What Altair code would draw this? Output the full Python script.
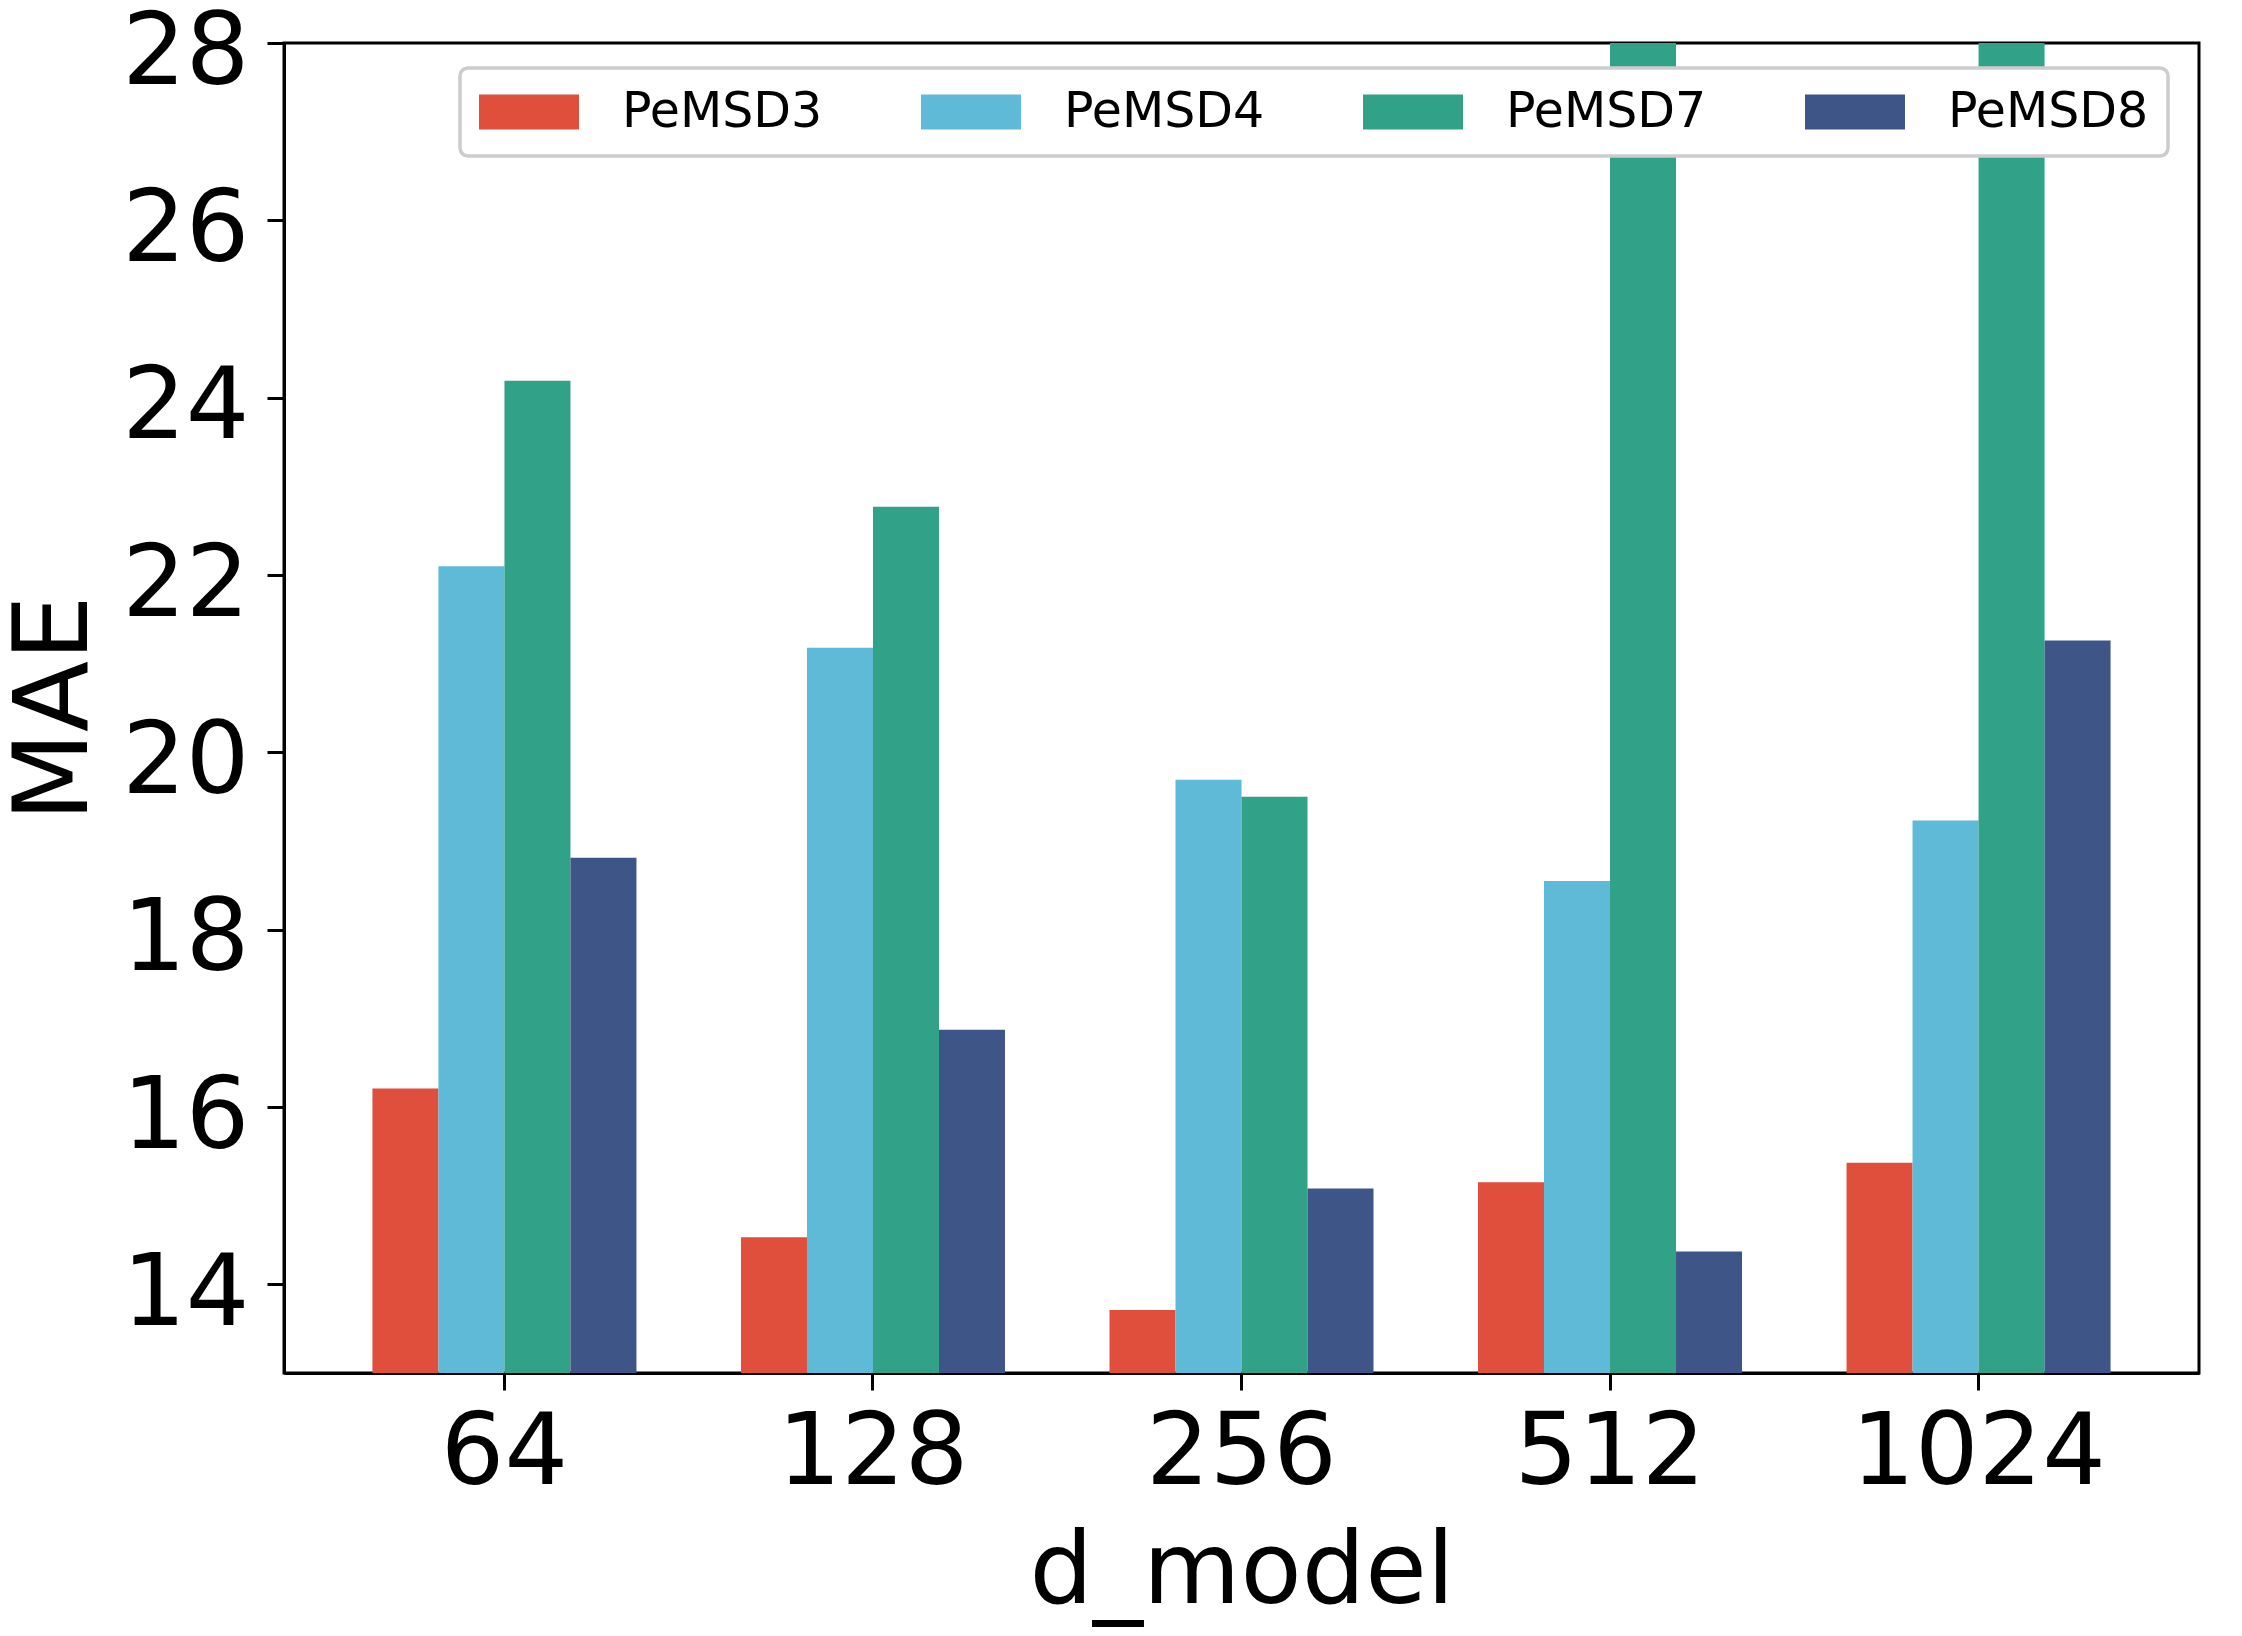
import altair as alt
import pandas as pd

d_model = ["64", "128", "256", "512", "1024"]
datasets = ["PeMSD3", "PeMSD4", "PeMSD7", "PeMSD8"]
colors = ["#e04e3c", "#5ebad6", "#31a188", "#3e5587"]

pemsd3 = [16.21, 14.53, 13.71, 15.15, 15.37]
pemsd4 = [22.10, 21.18, 19.69, 18.55, 19.23]
pemsd7 = [24.19, 22.77, 19.50, 31.0, 30.5]
pemsd8 = [18.81, 16.87, 15.08, 14.37, 21.26]

y_ticks = [14, 16, 18, 20, 22, 24, 26, 28]

series = {"PeMSD3": pemsd3, "PeMSD4": pemsd4, "PeMSD7": pemsd7, "PeMSD8": pemsd8}
rows = []
for name in datasets:
    for dm, v in zip(d_model, series[name]):
        rows.append({"d_model": dm, "dataset": name, "MAE": v})
df = pd.DataFrame(rows)

FONT = "DejaVu Sans"

chart = alt.Chart(df).mark_bar(clip=True).encode(
    x=alt.X(
        "d_model:N",
        sort=d_model,
        title="d_model",
        scale=alt.Scale(paddingInner=0.2836, paddingOuter=0.24),
        axis=alt.Axis(
            labelAngle=0,
            labelFontSize=100,
            labelPadding=14,
            labelLimit=500,
            labelColor="black",
            tickSize=17,
            tickWidth=3,
            tickColor="black",
            domainColor="black",
            domainWidth=3,
            titleFontSize=100,
            titleFontWeight="normal",
            titleColor="black",
            titleY=229,
            titleBaseline="alphabetic",
        ),
    ),
    xOffset=alt.XOffset(
        "dataset:N",
        sort=datasets,
        scale=alt.Scale(paddingInner=0, paddingOuter=0),
    ),
    y=alt.Y(
        "MAE:Q",
        title="MAE",
        scale=alt.Scale(domain=[13, 28], nice=False, zero=False),
        axis=alt.Axis(
            values=y_ticks,
            grid=False,
            labelFontSize=100,
            labelPadding=18,
            labelOffset=10,
            labelLimit=500,
            labelColor="black",
            tickSize=17,
            tickWidth=3,
            tickColor="black",
            domainColor="black",
            domainWidth=3,
            titleFontSize=104,
            titleFontWeight="normal",
            titleColor="black",
            titleX=-198,
            titleBaseline="alphabetic",
            titleAngle=270,
        ),
    ),
    color=alt.Color(
        "dataset:N",
        sort=datasets,
        title=None,
        scale=alt.Scale(domain=datasets, range=colors),
        legend=alt.Legend(
            orient="none",
            legendX=176,
            legendY=25,
            direction="horizontal",
            columns=4,
            symbolType="M-1,-0.7L3,-0.7L3,0.7L-1,0.7Z",
            symbolSize=2500,
            symbolStrokeWidth=0,
            symbolOpacity=1,
            labelFontSize=49,
            labelOffset=93,
            labelLimit=400,
            labelColor="black",
            columnPadding=98,
            padding=19,
            strokeColor="#cccccc",
            cornerRadius=8,
            fillColor="white",
        ),
    ),
).properties(
    width=1915,
    height=1330,
    autosize=alt.AutoSizeParams(type="none"),
    padding={"left": 276, "top": 35, "right": 35, "bottom": 255},
).configure(
    font=FONT,
).configure_legend(
    strokeWidth=3.5,
).configure_view(
    stroke="black",
    strokeWidth=3,
)

chart.save("out.html", embed_options={"renderer": "svg", "actions": False})
